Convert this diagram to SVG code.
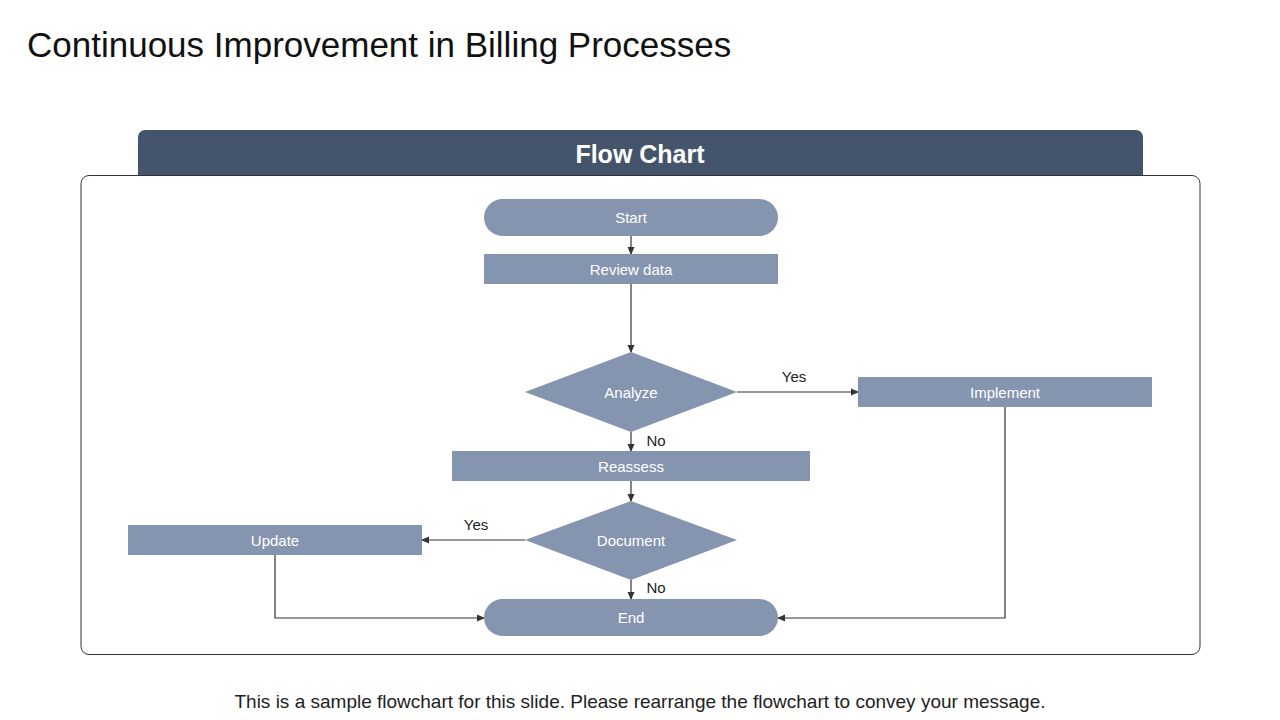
<svg xmlns="http://www.w3.org/2000/svg" width="1280" height="720" viewBox="0 0 1280 720">
<style>
.n{fill:#8595B0}
.t{font-family:"Century Gothic","Liberation Sans",sans-serif;font-size:15px;fill:#fff;text-anchor:middle;dominant-baseline:central}
.l{font-family:"Liberation Sans",sans-serif;font-size:15px;fill:#222;text-anchor:middle}
.c{stroke:#333;stroke-width:1.2;fill:none;marker-end:url(#a)}
</style>
<defs><marker id="a" markerWidth="8" markerHeight="8" refX="7" refY="4" orient="auto" markerUnits="userSpaceOnUse"><path d="M0,0.5 L8,4 L0,7.5Z" fill="#333"/></marker></defs>
<rect width="1280" height="720" fill="#fff"/>
<text x="27" y="57" font-family="Liberation Sans,sans-serif" font-size="35" fill="#111">Continuous Improvement in Billing Processes</text>
<path d="M138,175 V137 a7,7 0 0 1 7,-7 H1136 a7,7 0 0 1 7,7 V175Z" fill="#44546A"/>
<text x="640" y="154" font-family="Liberation Sans,sans-serif" font-size="25" font-weight="bold" fill="#fff" text-anchor="middle" dominant-baseline="central">Flow Chart</text>
<rect x="81" y="175.5" width="1119" height="479" rx="8" fill="none" stroke="#333" stroke-width="1"/>
<g id="connectors">
<path class="c" d="M631,236 V254"/>
<path class="c" d="M631,284 V352"/>
<path class="c" d="M737,392 H858"/>
<path class="c" d="M631,432 V451"/>
<path class="c" d="M631,481 V501"/>
<path class="c" d="M525,540 H422"/>
<path class="c" d="M631,580 V599"/>
<path class="c" d="M275,555 V618 H484"/>
<path class="c" d="M1005,407 V618 H778"/>
<text class="l" x="794" y="382">Yes</text>
<text class="l" x="656" y="446">No</text>
<text class="l" x="476" y="530">Yes</text>
<text class="l" x="656" y="593">No</text>
</g>
<g id="start"><rect class="n" x="484" y="199" width="294" height="37" rx="18.5"/><text class="t" x="631" y="217">Start</text></g>
<g id="review"><rect class="n" x="484" y="254" width="294" height="30"/><text class="t" x="631" y="269">Review data</text></g>
<g id="analyze"><polygon class="n" points="631,352 737,392 631,432 525,392"/><text class="t" x="631" y="392">Analyze</text></g>
<g id="implement"><rect class="n" x="858" y="377" width="294" height="30"/><text class="t" x="1005" y="392">Implement</text></g>
<g id="reassess"><rect class="n" x="452" y="451" width="358" height="30"/><text class="t" x="631" y="466">Reassess</text></g>
<g id="document"><polygon class="n" points="631,501 737,540 631,580 525,540"/><text class="t" x="631" y="540">Document</text></g>
<g id="update"><rect class="n" x="128" y="525" width="294" height="30"/><text class="t" x="275" y="540">Update</text></g>
<g id="end"><rect class="n" x="484" y="599" width="294" height="37" rx="18.5"/><text class="t" x="631" y="617">End</text></g>
<text x="640" y="708" font-family="Liberation Sans,sans-serif" font-size="19" fill="#222" text-anchor="middle">This is a sample flowchart for this slide. Please rearrange the flowchart to convey your message.</text>
</svg>
